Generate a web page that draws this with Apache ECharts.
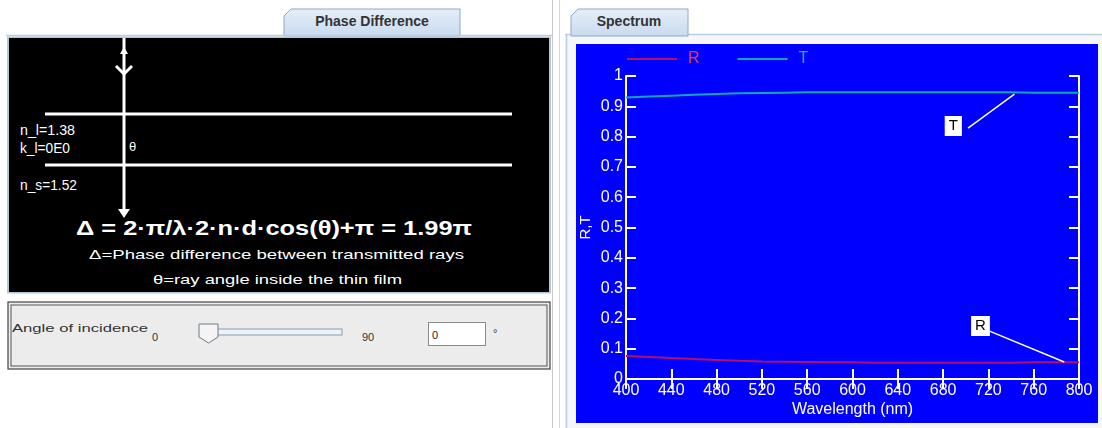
<!DOCTYPE html>
<html>
<head>
<meta charset="utf-8">
<script src="https://cdn.jsdelivr.net/npm/echarts@6/dist/echarts.min.js"></script>
<style>
  html,body{margin:0;padding:0;background:#ffffff;width:1102px;height:428px;overflow:hidden;font-family:"Liberation Sans",Arial,sans-serif;}
  #left{position:absolute;left:0;top:0;}
  #chart{position:absolute;left:576px;top:44px;width:522px;height:379px;}
</style>
</head>
<body>
<svg id="left" width="1102" height="428" xmlns="http://www.w3.org/2000/svg" font-family="Liberation Sans, Arial, sans-serif">
  <defs>
    <linearGradient id="tabg" x1="0" y1="0" x2="0" y2="1">
      <stop offset="0" stop-color="#e6eef8"/>
      <stop offset="1" stop-color="#c9dbef"/>
    </linearGradient>
  </defs>
  <!-- left tab -->
  <path d="M284,36 L284,16 L291,9 L460,9 L460,36 Z" fill="url(#tabg)" stroke="#8ea8c6" stroke-width="1"/>
  <text x="372" y="26" font-size="14" font-weight="bold" fill="#333" text-anchor="middle">Phase Difference</text>
  <line x1="6" y1="35.5" x2="552" y2="35.5" stroke="#b9cde3" stroke-width="1.5"/>
  <!-- black box -->
  <rect x="7" y="36.5" width="544" height="257" fill="#b3c6da"/>
  <rect x="9" y="38" width="540" height="254" fill="#000"/>
  <line x1="45" y1="114" x2="512" y2="114" stroke="#fff" stroke-width="3"/>
  <line x1="45" y1="165" x2="512" y2="165" stroke="#fff" stroke-width="3"/>
  <line x1="124" y1="38" x2="124" y2="210" stroke="#fff" stroke-width="3"/>
  <path d="M118,209 L130,209 L124,218 Z" fill="#fff"/>
  <path d="M120,54 L128,54 L124,47 Z" fill="#fff"/>
  <path d="M116,66 L124,74 L132,66" fill="none" stroke="#fff" stroke-width="3"/>
  <text x="20" y="135" font-size="14" fill="#fff" textLength="55" lengthAdjust="spacingAndGlyphs">n_l=1.38</text>
  <text x="20" y="153" font-size="14" fill="#fff" textLength="50" lengthAdjust="spacingAndGlyphs">k_l=0E0</text>
  <text x="129" y="151" font-size="13" fill="#fff">θ</text>
  <text x="20" y="190" font-size="14" fill="#fff" textLength="57" lengthAdjust="spacingAndGlyphs">n_s=1.52</text>
  <text x="76" y="235" font-size="20" font-weight="bold" fill="#fff" textLength="396" lengthAdjust="spacingAndGlyphs">Δ = 2·π/λ·2·n·d·cos(θ)+π = 1.99π</text>
  <text x="89" y="259" font-size="13.5" fill="#fff" textLength="375" lengthAdjust="spacingAndGlyphs">Δ=Phase difference between transmitted rays</text>
  <text x="153" y="284" font-size="13.5" fill="#fff" textLength="249" lengthAdjust="spacingAndGlyphs">θ=ray angle inside the thin film</text>
  <!-- control panel -->
  <rect x="8" y="302" width="542" height="67" fill="#ececec" stroke="#444" stroke-width="1.2"/>
  <rect x="11" y="305" width="536" height="61" fill="#ececec" stroke="#555" stroke-width="1"/>
  <text x="12" y="332" font-size="11" fill="#333" textLength="136" lengthAdjust="spacingAndGlyphs">Angle of incidence</text>
  <text x="152" y="341" font-size="11" fill="#333">0</text>
  <rect x="216" y="329" width="126" height="6" fill="#eef2f6" stroke="#8a9bb0" stroke-width="1"/>
  <path d="M199,324 L218,324 L218,337 L208.5,343 L199,337 Z" fill="#f4f4f4" stroke="#6a7a8c" stroke-width="1"/>
  <text x="362" y="341" font-size="11" fill="#333">90</text>
  <rect x="428.5" y="322.5" width="57" height="23" fill="#fff" stroke="#8a8a8a" stroke-width="1"/>
  <text x="432" y="339" font-size="11" fill="#222">0</text>
  <text x="493" y="337" font-size="11" fill="#333">°</text>
  <!-- divider -->
  <line x1="552.5" y1="0" x2="552.5" y2="428" stroke="#c8c8c8" stroke-width="1"/>
  <line x1="559.5" y1="0" x2="559.5" y2="428" stroke="#d8d8d8" stroke-width="1"/>
  <!-- right tab/frame -->
  <rect x="565" y="34" width="537" height="394" fill="#f6f6f6"/>
  <line x1="565" y1="34.5" x2="1102" y2="34.5" stroke="#b9cde3" stroke-width="1.5"/>
  <line x1="566.5" y1="34" x2="566.5" y2="428" stroke="#b9cde3" stroke-width="1.5"/>
  <path d="M571,36 L571,16 L578,9 L688,9 L688,36 Z" fill="url(#tabg)" stroke="#8ea8c6" stroke-width="1"/>
  <text x="629" y="26" font-size="14" font-weight="bold" fill="#333" text-anchor="middle">Spectrum</text>
</svg>
<div id="chart"></div>
<script>
// ---- data ----
const wavelengths = [400,420,440,460,480,500,520,540,560,580,600,620,640,660,680,700,720,740,760,780,800];
const R = [0.076,0.073,0.069,0.066,0.063,0.060,0.058,0.057,0.056,0.055,0.055,0.054,0.054,0.054,0.054,0.054,0.054,0.054,0.055,0.055,0.055];
const T = [0.929,0.932,0.935,0.938,0.941,0.943,0.944,0.945,0.946,0.946,0.946,0.946,0.946,0.946,0.946,0.946,0.946,0.946,0.945,0.945,0.945];
const xTicks = [400,440,480,520,560,600,640,680,720,760,800];
const yTicks = [0,0.1,0.2,0.3,0.4,0.5,0.6,0.7,0.8,0.9,1];
// annotation callouts: [label position], [line start], [line end] in data coordinates
const annT = {label:[689,0.835], from:[702,0.828], to:[743,0.94]};
const annR = {label:[713,0.175], from:[721,0.158], to:[787,0.056]};

const FONT = '"Liberation Sans", Arial, sans-serif';
const chart = echarts.init(document.getElementById('chart'), null, {renderer:'canvas'});
const axisCommon = {
  axisLine:{show:true, lineStyle:{color:'#fff', width:2}},
  axisTick:{show:true, inside:true, length:10, lineStyle:{color:'#fff', width:2}},
  splitLine:{show:false}
};
function pairs(ys){ return wavelengths.map((w,i)=>[w, ys[i]]); }
function callout(a){
  return {
    type:'line', data:[], silent:true,
    markLine:{silent:true, symbol:['none','circle'], symbolSize:[0,3], animation:false,
      lineStyle:{color:'#fff', width:1.5, type:'solid'}, label:{show:false},
      emphasis:{disabled:true},
      data:[[{coord:a.from},{coord:a.to}]]}
  };
}
chart.setOption({
  backgroundColor:'#0000ff',
  animation:false,
  textStyle:{fontFamily:FONT},
  legend:{
    left:46, top:2, itemWidth:50, itemHeight:2, itemGap:38, icon:'rect',
    data:[
      {name:'R', textStyle:{color:'#f03a5a'}},
      {name:'T', textStyle:{color:'#18b8a0'}}
    ],
    textStyle:{fontSize:16, fontFamily:FONT, padding:[0,0,0,6]}
  },
  grid:{left:50, right:19, top:32, bottom:44, containLabel:false, outerBoundsMode:'none'},
  xAxis:[
    Object.assign({type:'value', min:400, max:800, interval:40, position:'bottom',
      name:'Wavelength (nm)', nameLocation:'middle', nameGap:23, nameMoveOverlap:false,
      nameTextStyle:{color:'#fff', fontSize:16, fontFamily:FONT},
      axisLabel:{color:'#fff', fontSize:16, margin:4, fontFamily:FONT,
        formatter:v=> xTicks.includes(v) ? String(v) : ''}}, axisCommon),
    Object.assign({type:'value', min:400, max:800, interval:40, position:'top',
      axisLabel:{show:false}}, axisCommon)
  ],
  yAxis:[
    Object.assign({type:'value', min:0, max:1, interval:0.1, position:'left',
      name:'R,T', nameLocation:'middle', nameGap:33, nameRotate:90, nameMoveOverlap:false,
      nameTextStyle:{color:'#fff', fontSize:15, fontFamily:FONT},
      axisLabel:{color:'#fff', fontSize:16, margin:3, fontFamily:FONT,
        formatter:v=>{ const t=yTicks.find(y=>Math.abs(y-v)<1e-6); return t===undefined?'':(t===0?'0':t===1?'1':t.toFixed(1)); }}}, axisCommon),
    Object.assign({type:'value', min:0, max:1, interval:0.1, position:'right',
      axisLabel:{show:false}}, axisCommon)
  ],
  series:[
    {name:'R', type:'line', data:pairs(R), symbol:'none', lineStyle:{color:'#b0106e', width:2}, itemStyle:{color:'#b0106e'}},
    {name:'T', type:'line', data:pairs(T), symbol:'none', lineStyle:{color:'#12a6b4', width:2}, itemStyle:{color:'#12a6b4'}},
    callout(annT), callout(annR),
    {type:'scatter', symbolSize:0, silent:true, itemStyle:{opacity:1},
      data:[{value:annT.label, label:{formatter:'T'}},{value:annR.label, label:{formatter:'R'}}],
      label:{show:true, position:'inside', color:'#000', backgroundColor:'#fff', opacity:1, fontSize:15, fontFamily:FONT, padding:[3,4,2,4]}}
  ]
});
</script>
</body>
</html>
